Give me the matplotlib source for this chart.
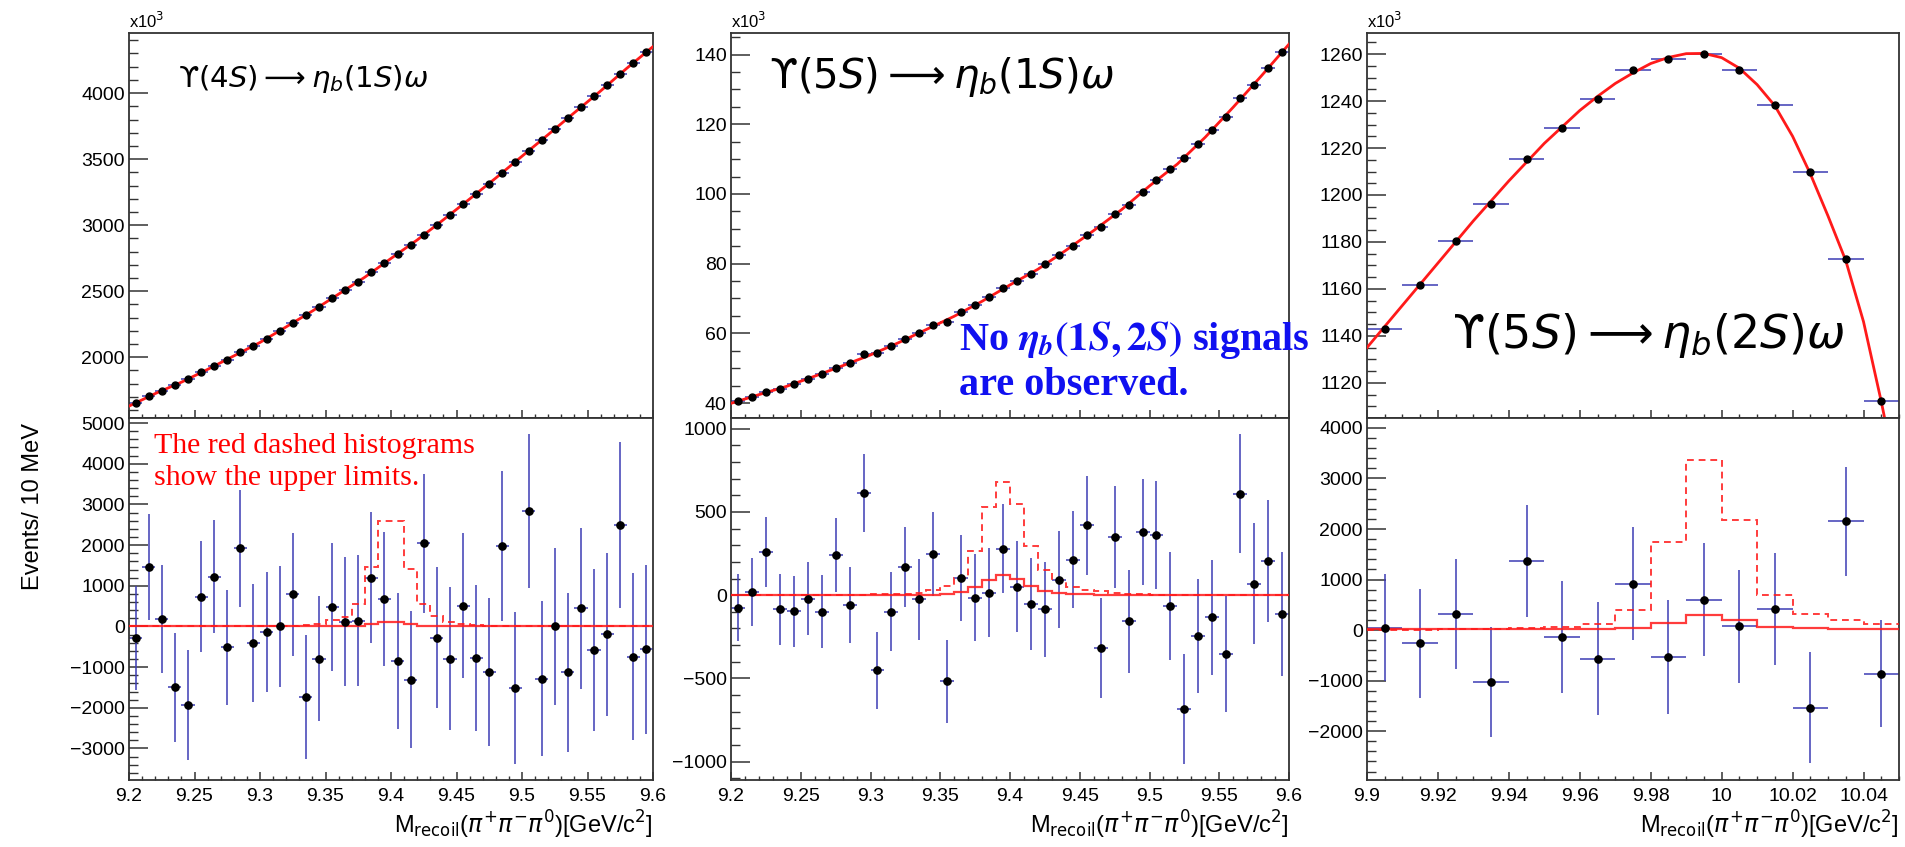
import numpy as np
import matplotlib
matplotlib.use('Agg')
import matplotlib.pyplot as plt
from matplotlib.ticker import MultipleLocator, FixedLocator, FuncFormatter

plt.rcParams['font.family'] = ['Liberation Sans', 'DejaVu Sans']
plt.rcParams['axes.unicode_minus'] = True

# ------------------------------------------------------------------ data
# Y(4S) -> eta_b(1S) omega : 40 bins of 10 MeV from 9.20 to 9.60
top_4s = [1652, 1703, 1746, 1787, 1835, 1886, 1931, 1982, 2038, 2084,
          2140, 2198, 2261, 2320, 2381, 2447, 2508, 2571, 2642, 2713,
          2782, 2850, 2926, 3003, 3079, 3157, 3239, 3315, 3398, 3480,
          3563, 3645, 3726, 3810, 3893, 3975, 4058, 4147, 4228, 4312]
fitx_4s = [9.20, 9.22, 9.24, 9.26, 9.28, 9.30, 9.32, 9.34, 9.36, 9.38, 9.40,
           9.42, 9.44, 9.46, 9.48, 9.50, 9.52, 9.54, 9.56, 9.58, 9.60]
fit_4s = [1630, 1725, 1811, 1908, 2010, 2112, 2230, 2350, 2478, 2606, 2748,
          2888, 3041, 3198, 3357, 3522, 3686, 3852, 4016, 4188, 4352]
res_4s = [-290, 1459, 174, -1493, -1932, 730, 1227, -514, 1924, -415,
          -141, 8, 788, -1725, -788, 473, 116, 141, 1202, 672,
          -854, -1310, 2048, -274, -788, 514, -771, -1119, 1982, -1517,
          2836, -1285, 8, -1128, 448, -589, -191, 2504, -746, -564]
err_4s = [1280, 1306, 1327, 1340, 1356, 1368, 1389, 1418, 1434, 1451,
          1472, 1489, 1505, 1526, 1546, 1567, 1588, 1617, 1621, 1638,
          1671, 1680, 1708, 1733, 1754, 1775, 1795, 1812, 1849, 1862,
          1895, 1907, 1928, 1957, 1978, 1990, 2002, 2040, 2056, 2081]
ul_4s = [0, 0, 0, 0, 0, 0, 0, 0, 0, 0,
         0, 5, 15, 30, 60, 150, 240, 540, 1460, 2600,
         2600, 1420, 560, 250, 110, 50, 25, 10, 0, 0,
         0, 0, 0, 0, 0, 0, 0, 0, 0, 0]
sig_4s = [0, 0, 0, 0, 0, 0, 0, 0, 0, 0,
          0, 0, 0, 0, 0, 0, 10, 22, 55, 105,
          105, 55, 22, 10, 4, 0, 0, 0, 0, 0,
          0, 0, 0, 0, 0, 0, 0, 0, 0, 0]

# Y(5S) -> eta_b(1S) omega
top_5s1 = [40.5, 41.6, 43.3, 44.1, 45.4, 47.0, 48.3, 50.0, 51.4, 54.0,
           54.3, 56.4, 58.4, 60.0, 62.4, 63.3, 66.2, 68.1, 70.3, 72.9,
           75.0, 77.1, 79.8, 82.4, 85.2, 88.3, 90.5, 94.2, 96.9, 100.7,
           104.0, 107.1, 110.2, 114.3, 118.3, 122.2, 127.6, 131.4, 136.2, 140.7]
fitx_5s1 = [9.20, 9.22, 9.24, 9.26, 9.28, 9.30, 9.32, 9.34, 9.36, 9.38, 9.40,
            9.42, 9.44, 9.46, 9.48, 9.50, 9.52, 9.54, 9.56, 9.58, 9.60]
fit_5s1 = [39.9, 42.4, 44.8, 47.7, 50.7, 53.8, 57.3, 61.1, 64.9, 69.2, 73.9,
           78.4, 83.8, 89.5, 95.5, 102.3, 108.6, 116.3, 124.9, 133.8, 143.0]
res_5s1 = [-76, 20, 257, -86, -96, -20, -100, 241, -60, 614,
           -452, -100, 169, -26, 249, -518, 104, -16, 16, 279,
           50, -52, -84, 94, 213, 420, -317, 351, -157, 380,
           359, -64, -683, -245, -133, -353, 610, 68, 205, -112]
err_5s1 = [201, 206, 210, 211, 214, 217, 219, 223, 227, 233,
           231, 237, 243, 245, 251, 251, 258, 261, 266, 268,
           273, 278, 286, 289, 293, 297, 303, 306, 309, 318,
           324, 326, 331, 340, 344, 351, 358, 364, 368, 373]
ul_5s1 = [0, 0, 0, 0, 0, 0, 0, 0, 0, 0,
          5, 8, 10, 14, 32, 56, 104, 265, 532, 679,
          550, 297, 149, 90, 50, 34, 24, 16, 10, 6,
          4, 2, 2, 2, 2, 2, 2, 2, 2, 2]
sig_5s1 = [0, 0, 0, 0, 0, 0, 0, 0, 0, 0,
           0, 0, 0, 0, 4, 10, 20, 50, 94, 120,
           96, 54, 26, 16, 10, 5, 0, 0, 0, 0,
           0, 0, 0, 0, 0, 0, 0, 0, 0, 0]

# Y(5S) -> eta_b(2S) omega : 15 bins of 10 MeV from 9.90 to 10.05
top_5s2 = [1143.0, 1161.8, 1180.6, 1196.3, 1215.2, 1228.5, 1241.0, 1253.3,
           1257.9, 1260.1, 1253.3, 1238.4, 1209.8, 1172.9, 1112.2]
fitx_5s2 = [9.900, 9.905, 9.910, 9.915, 9.920, 9.925, 9.930, 9.935, 9.940,
            9.945, 9.950, 9.955, 9.960, 9.965, 9.970, 9.975, 9.980, 9.985,
            9.990, 9.995, 10.000, 10.005, 10.010, 10.015, 10.020, 10.025,
            10.030, 10.035, 10.040, 10.045, 10.050]
fit_5s2 = [1135, 1144, 1153, 1162, 1171, 1180, 1189, 1197.5, 1206,
           1214, 1222, 1229, 1236, 1242, 1247.5, 1252, 1256, 1258.6,
           1260.2, 1260.3, 1258.5, 1254, 1247, 1238, 1225, 1209,
           1191, 1172, 1146, 1112, 1075]
res_5s2 = [46, -264, 323, -1028, 1365, -132, -567, 916, -534, 600,
           73, 415, -1536, 2156, -864]
err_5s2 = [1061, 1078, 1085, 1088, 1104, 1104, 1114, 1121, 1121, 1121,
           1121, 1114, 1101, 1081, 1058]
ul_5s2 = [0, 10, 20, 30, 46, 59, 112, 389, 1740, 3362, 2175, 686, 310, 191, 125]
sig_5s2 = [15, 15, 15, 18, 20, 22, 30, 46, 145, 290, 190, 66, 46, 26, 20]

# tick labels
xt_a = [9.2, 9.25, 9.3, 9.35, 9.4, 9.45, 9.5, 9.55, 9.6]
xt_b = [9.9, 9.92, 9.94, 9.96, 9.98, 10.0, 10.02, 10.04]
yt_top_4s = [2000, 2500, 3000, 3500, 4000]
yt_bot_4s = [-3000, -2000, -1000, 0, 1000, 2000, 3000, 4000, 5000]
yt_top_5s1 = [40, 60, 80, 100, 120, 140]
yt_bot_5s1 = [-1000, -500, 0, 500, 1000]
yt_top_5s2 = [1120, 1140, 1160, 1180, 1200, 1220, 1240, 1260]
yt_bot_5s2 = [-2000, -1000, 0, 1000, 2000, 3000, 4000]

# ------------------------------------------------------------------ figure
W, H = 1905, 847
fig = plt.figure(figsize=(W / 100, H / 100), dpi=100)

BLUE = '#3c3cb4'
RED = '#ff1a1a'


def px_axes(x0, x1, y0, y1):
    return fig.add_axes([x0 / W, 1 - y1 / H, (x1 - x0) / W, (y1 - y0) / H])


fmt = FuncFormatter(lambda v, p: ('%g' % round(v, 6)).replace('-', '\u2212'))


def style(ax, xt, xminor, yt, yminor, xlim, ylim, labels):
    ax.set_xlim(*xlim)
    ax.set_ylim(*ylim)
    ax.xaxis.set_major_locator(FixedLocator(xt))
    ax.xaxis.set_minor_locator(MultipleLocator(xminor))
    ax.yaxis.set_major_locator(FixedLocator(yt))
    ax.yaxis.set_minor_locator(MultipleLocator(yminor))
    ax.xaxis.set_major_formatter(fmt)
    ax.yaxis.set_major_formatter(fmt)
    ax.tick_params(axis='y', which='major', direction='in', length=13.5,
                   width=1.1, labelsize=14, pad=3, right=False, color='#333333')
    ax.tick_params(axis='y', which='minor', direction='in', length=6.5,
                   width=1.0, right=False, color='#333333')
    ax.tick_params(axis='x', which='major', direction='in', length=6,
                   width=1.1, labelsize=14, pad=6, top=False,
                   labelbottom=labels, color='#333333')
    ax.tick_params(axis='x', which='minor', direction='in', length=3.2,
                   width=1.0, top=False, color='#333333')
    for s in ax.spines.values():
        s.set_linewidth(1.3)
        s.set_color('#333333')


def draw_top(ax, x, y, fx, fy, ms):
    ax.errorbar(x, y, xerr=0.005, fmt='none', ecolor=BLUE, elinewidth=1.1,
                capsize=0, zorder=2)
    ax.plot(fx, fy, color=RED, lw=2.0, zorder=3)
    ax.plot(x, y, 'o', color='black', ms=ms, zorder=4)
    ax.text(0.0, 1.004, r'x10$^3$', transform=ax.transAxes, ha='left',
            va='bottom', fontsize=12)


def draw_bot(ax, x, edges, r, e, ul, sig, ms):
    ax.errorbar(x, r, yerr=e, xerr=0.005, fmt='none', ecolor=BLUE,
                elinewidth=1.1, capsize=0, zorder=2)
    ax.stairs(sig, edges, color=RED, lw=1.6, baseline=None, zorder=3, alpha=0.85)
    ax.stairs(ul, edges, color=RED, lw=1.4, ls=(0, (3.5, 2.5)), baseline=None,
              zorder=3, alpha=0.85)
    ax.plot(x, r, 'o', color='black', ms=ms, zorder=4)


xa = np.round(9.205 + 0.01 * np.arange(40), 3)
ea = np.round(9.2 + 0.01 * np.arange(41), 3)
xb = np.round(9.905 + 0.01 * np.arange(15), 3)
eb = np.round(9.9 + 0.01 * np.arange(16), 3)

Y_TOP, Y_SPLIT, Y_BOT = 33, 418, 780
panels = [(129, 653), (731, 1289), (1367, 1899)]

# panel 1
t1 = px_axes(129, 653, Y_TOP, Y_SPLIT)
b1 = px_axes(129, 653, Y_SPLIT, Y_BOT)
draw_top(t1, xa, top_4s, fitx_4s, fit_4s, 5)
draw_bot(b1, xa, ea, res_4s, err_4s, ul_4s, sig_4s, 5.2)
style(t1, xt_a, 0.01, yt_top_4s, 100, (9.2, 9.6), (1540, 4455), False)
style(b1, xt_a, 0.01, yt_bot_4s, 200, (9.2, 9.6), (-3775, 5125), True)

# panel 2
t2 = px_axes(731, 1289, Y_TOP, Y_SPLIT)
b2 = px_axes(731, 1289, Y_SPLIT, Y_BOT)
draw_top(t2, xa, top_5s1, fitx_5s1, fit_5s1, 5)
draw_bot(b2, xa, ea, res_5s1, err_5s1, ul_5s1, sig_5s1, 5.2)
style(t2, xt_a, 0.01, yt_top_5s1, 5, (9.2, 9.6), (35.7, 146.2), False)
style(b2, xt_a, 0.01, yt_bot_5s1, 100, (9.2, 9.6), (-1110, 1064), True)

# panel 3
t3 = px_axes(1367, 1899, Y_TOP, Y_SPLIT)
b3 = px_axes(1367, 1899, Y_SPLIT, Y_BOT)
draw_top(t3, xb, top_5s2, fitx_5s2, fit_5s2, 5)
draw_bot(b3, xb, eb, res_5s2, err_5s2, ul_5s2, sig_5s2, 5.2)
style(t3, xt_b, 0.005, yt_top_5s2, 5, (9.9, 10.05), (1105, 1269), False)
style(b3, xt_b, 0.005, yt_bot_5s2, 200, (9.9, 10.05), (-2967, 4197), True)

# ------------------------------------------------------------------ texts
def ftext(x, y, s, **kw):
    return fig.text(x / W, 1 - y / H, s, **kw)


ups = dict(va='baseline', ha='left', math_fontfamily='dejavusans',
           family=['DejaVu Sans'])
ftext(178, 87, '\u03d2$(4S) \\longrightarrow \\eta_b(1S)\\omega$', fontsize=21, **ups)
ftext(769, 88, '\u03d2$(5S) \\longrightarrow \\eta_b(1S)\\omega$', fontsize=29, **ups)
ftext(1452, 348, '\u03d2$(5S) \\longrightarrow \\eta_b(2S)\\omega$', fontsize=33, **ups)

ftext(154, 453, 'The red dashed histograms', fontsize=21.5, color='#ff0000',
      family=['Liberation Serif', 'DejaVu Serif'], va='baseline')
ftext(154, 485, 'show the upper limits.', fontsize=21.5, color='#ff0000',
      family=['Liberation Serif', 'DejaVu Serif'], va='baseline')

ftext(959, 350, r'No $\mathbfit{\eta_b}\mathbf{(1}\mathbfit{S}\mathbf{,2}\mathbfit{S}\mathbf{)}$ signals',
      fontsize=29, color='#1010f0', fontweight='bold',
      family=['Liberation Serif', 'DejaVu Serif'], va='baseline',
      math_fontfamily='stix')
ftext(959, 395, 'are observed.', fontsize=29, color='#1010f0', fontweight='bold',
      family=['Liberation Serif', 'DejaVu Serif'], va='baseline')

ftext(33, 507, 'Events/ 10 MeV', rotation=90, ha='center', va='center', fontsize=17)

xlab = r'M$_{\rm recoil}$($\pi^{+}\pi^{-}\pi^{0}$)[GeV/c$^{2}$]'
for (x0, x1) in panels:
    ftext(x1, 825, xlab, ha='right', va='center', fontsize=17,
          math_fontfamily='dejavusans')

fig.savefig('out.png', dpi=100)
